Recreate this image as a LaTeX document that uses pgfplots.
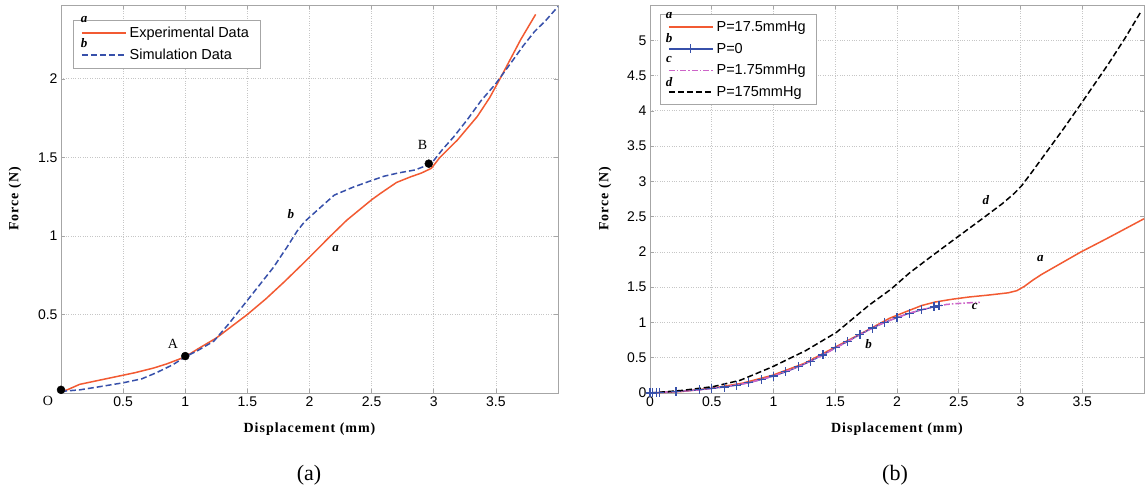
\documentclass[border=0pt]{standalone}
\usepackage{pgfplots}
\pgfplotsset{compat=1.18}
\usepackage{fontspec}
\setmainfont{Liberation Serif}
\newfontfamily\arial{Liberation Sans}
\newfontfamily\lblfont[LetterSpace=7]{Liberation Serif}
\definecolor{expred}{RGB}{242,90,50}
\definecolor{simblue}{RGB}{55,80,170}
\definecolor{pmag}{RGB}{205,100,200}
\pgfplotsset{
  common/.style={
    anchor=south west, scale only axis, height=388pt,
    axis line style={gray!70}, tick style={gray!70, line width=0.6pt},
    major tick length=4pt, tick align=inside,
    grid=major, grid style={dotted, gray!45, line width=0.7pt},
    tick label style={font=\arial\fontsize{14}{16}\selectfont},
    /pgf/number format/assume math mode=true,
    xlabel={Displacement (mm)}, ylabel={Force (N)},
    label style={font=\lblfont\bfseries\fontsize{14}{16}\selectfont},
    xlabel style={at={(axis description cs:0.5,0)}, anchor=center, yshift=-36pt},
    legend cell align=left,
    legend style={draw=gray!70, fill=white, font=\arial\fontsize{14.5}{16}\selectfont,
      inner xsep=8pt, inner ysep=5pt, row sep=6pt,
      nodes={inner xsep=3pt}},
    legend image code/.code={\draw[line width=1.5pt,##1,mark repeat=2,mark phase=2] plot coordinates {(0pt,0pt) (22pt,0pt) (44pt,0pt)};},
    clip=false,
  }
}
\begin{document}
\begin{tikzpicture}
\useasboundingbox (0,0) rectangle (1145pt,492pt);
\begin{axis}[common, at={(61pt,99pt)}, width=497pt,
  xmin=0, xmax=4, ymin=0, ymax=2.47,
  xtick={0.5,1,1.5,2,2.5,3,3.5}, ytick={0.5,1,1.5,2},
  ylabel style={at={(axis description cs:-0.0926,0.5)}, anchor=center},
  legend style={at={(0.024,0.962)}, anchor=north west}]
\addplot[expred, line width=1.5pt] coordinates {
(0,0.01) (0.05,0.02) (0.15,0.055) (0.3,0.08) (0.45,0.105) (0.6,0.13) (0.75,0.16) (0.85,0.185) (1.0,0.23) (1.1,0.28) (1.25,0.35) (1.4,0.44) (1.5,0.5) (1.65,0.6) (1.8,0.71) (1.93,0.81) (2.0,0.865) (2.17,1.0) (2.3,1.1) (2.5,1.23) (2.57,1.27) (2.7,1.34) (2.81,1.375) (2.9,1.40) (2.98,1.43) (3.05,1.50) (3.19,1.61) (3.35,1.76) (3.45,1.88) (3.54,2.01) (3.62,2.13) (3.70,2.25) (3.76,2.33) (3.82,2.41)};
\addlegendentry{Experimental Data}
\addplot[simblue, line width=1.5pt, dash pattern=on 6pt off 3pt] coordinates {
(0,0.01) (0.15,0.02) (0.31,0.04) (0.5,0.065) (0.65,0.09) (0.77,0.13) (0.9,0.18) (1.0,0.23) (1.1,0.27) (1.23,0.33) (1.35,0.44) (1.5,0.59) (1.6,0.69) (1.71,0.80) (1.82,0.93) (1.9,1.03) (1.96,1.09) (2.03,1.14) (2.1,1.19) (2.2,1.26) (2.35,1.31) (2.49,1.35) (2.6,1.38) (2.71,1.40) (2.85,1.42) (2.98,1.46) (3.07,1.55) (3.16,1.63) (3.27,1.74) (3.38,1.86) (3.5,1.97) (3.62,2.10) (3.72,2.21) (3.81,2.30) (3.9,2.37) (4.0,2.46)};
\addlegendentry{Simulation Data}
\addplot[only marks, mark=*, mark size=4pt, black, forget plot] coordinates {(0,0.02) (1,0.235) (2.96,1.46)};
\node[font=\fontsize{14}{16}\selectfont] at (axis cs:-0.105,-0.05) {O};
\node[font=\fontsize{14}{16}\selectfont] at (axis cs:0.9,0.31) {A};
\node[font=\fontsize{14}{16}\selectfont] at (axis cs:2.91,1.58) {B};
\node[font=\bfseries\itshape\fontsize{13}{15}\selectfont] at (axis cs:1.85,1.14) {b};
\node[font=\bfseries\itshape\fontsize{13}{15}\selectfont] at (axis cs:2.21,0.92) {a};
\end{axis}
\begin{axis}[common, at={(650pt,99pt)}, width=494pt,
  xmin=0, xmax=4, ymin=0, ymax=5.5,
  xtick={0,0.5,1,1.5,2,2.5,3,3.5}, ytick={0,0.5,...,5},
  ylabel style={at={(axis description cs:-0.091,0.5)}, anchor=center},
  legend style={at={(0.02,0.976)}, anchor=north west}]
\addplot[expred, line width=1.5pt] coordinates {
(0,0) (0.25,0.02) (0.51,0.07) (0.75,0.14) (0.99,0.25) (1.25,0.42) (1.51,0.66) (1.75,0.88) (1.94,1.06) (2.04,1.13) (2.2,1.24) (2.31,1.29) (2.45,1.33) (2.58,1.36) (2.75,1.39) (2.9,1.42) (2.97,1.45) (3.03,1.51) (3.1,1.6) (3.17,1.68) (3.25,1.76) (3.35,1.86) (3.49,2.0) (3.7,2.19) (3.85,2.33) (4.0,2.47)};
\addlegendentry{P=17.5mmHg}
\addplot[simblue, line width=1.2pt, mark=+, mark size=4.5pt, mark options={line width=1.2pt}] coordinates {
(0,0) (0.02,0.001) (0.05,0.003) (0.08,0.005) (0.21,0.02) (0.4,0.045) (0.5,0.065) (0.6,0.085) (0.7,0.11) (0.8,0.145) (0.9,0.19) (1.0,0.24) (1.1,0.3) (1.2,0.37) (1.3,0.45) (1.4,0.54) (1.5,0.64) (1.6,0.73) (1.7,0.83) (1.8,0.92) (1.9,1.0) (2.0,1.07) (2.1,1.13) (2.2,1.18) (2.3,1.22) (2.34,1.24)};
\addlegendentry{P=0}
\addplot[pmag, line width=1.5pt, dash pattern=on 6pt off 2pt on 1.5pt off 2pt] coordinates {
(0,0) (0.21,0.02) (0.4,0.045) (0.6,0.085) (0.8,0.145) (1.0,0.24) (1.2,0.37) (1.4,0.54) (1.6,0.73) (1.8,0.92) (1.9,1.0) (2.0,1.07) (2.1,1.13) (2.2,1.18) (2.3,1.22) (2.4,1.255) (2.5,1.27) (2.6,1.28) (2.67,1.285)};
\addlegendentry{P=1.75mmHg}
\addplot[black, line width=1.5pt, dash pattern=on 6pt off 3pt] coordinates {
(0,0) (0.25,0.035) (0.51,0.09) (0.73,0.18) (0.99,0.37) (1.26,0.60) (1.51,0.86) (1.77,1.24) (1.95,1.47) (2.1,1.70) (2.25,1.90) (2.45,2.16) (2.69,2.47) (2.85,2.68) (2.95,2.83) (3.01,2.94) (3.1,3.15) (3.2,3.39) (3.35,3.75) (3.49,4.10) (3.6,4.38) (3.71,4.66) (3.85,5.04) (3.98,5.42)};
\addlegendentry{P=175mmHg}
\node[font=\bfseries\itshape\fontsize{13}{15}\selectfont] at (axis cs:1.77,0.70) {b};
\node[font=\bfseries\itshape\fontsize{13}{15}\selectfont] at (axis cs:2.63,1.23) {c};
\node[font=\bfseries\itshape\fontsize{13}{15}\selectfont] at (axis cs:2.72,2.73) {d};
\node[font=\bfseries\itshape\fontsize{13}{15}\selectfont] at (axis cs:3.16,1.90) {a};
\end{axis}
\begin{scope}[every node/.style={font=\bfseries\itshape\fontsize{13}{15}\selectfont}]
\node at (84pt,472pt) {a};
\node at (84pt,449pt) {b};
\node at (669pt,476pt) {a};
\node at (669pt,454pt) {b};
\node at (669pt,432pt) {c};
\node at (669pt,410pt) {d};
\end{scope}
\node[font=\fontsize{22}{26}\selectfont] at (309pt,17pt) {(a)};
\node[font=\fontsize{22}{26}\selectfont] at (895pt,17pt) {(b)};
\end{tikzpicture}
\end{document}
